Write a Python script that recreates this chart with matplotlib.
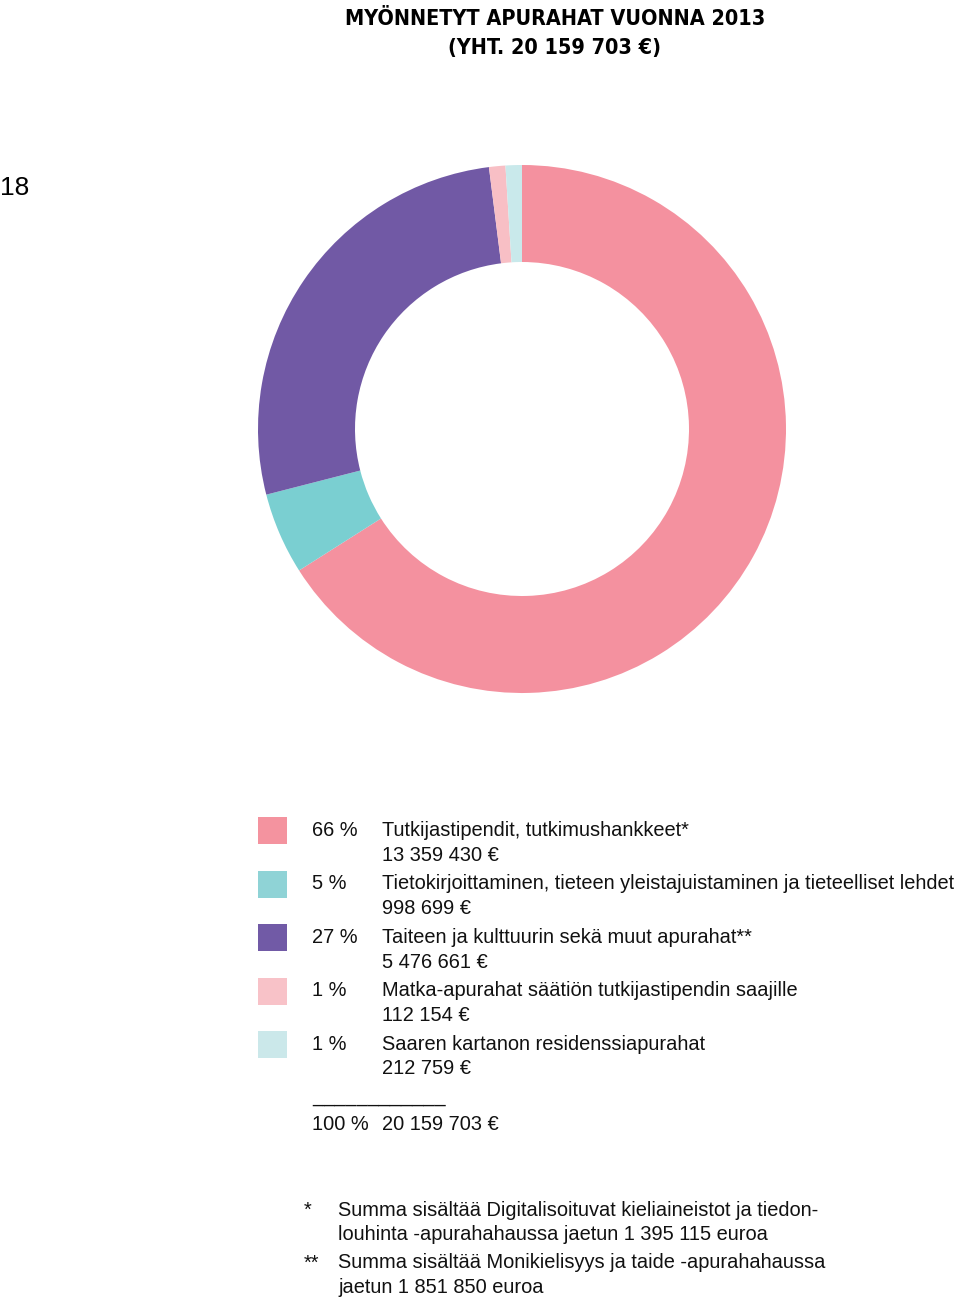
import matplotlib
matplotlib.use('Agg')
import matplotlib.pyplot as plt

# 2013 apurahat
labels = ['Tutkijastipendit, tutkimushankkeet*',
          'Tietokirjoittaminen, tieteen yleistajuistaminen ja tieteelliset lehdet',
          'Taiteen ja kulttuurin sekä muut apurahat**',
          'Matka-apurahat säätiön tutkijastipendin saajille',
          'Saaren kartanon residenssiapurahat']
amounts = [13359430, 998699, 5476661, 112154, 212759]
# kaavio on piirretty pyöristetyillä prosenteilla
shares = [66, 5, 27, 1, 1]
percents = ['66 %', '5 %', '27 %', '1 %', '1 %']
amount_texts = ['13 359 430 €', '998 699 €', '5 476 661 €', '112 154 €', '212 759 €']
colors = ['#F4919F', '#7ACFD1', '#7159A5', '#F8BFC5', '#C9E9EB']
legend_colors = ['#F4939F', '#8FD3D6', '#715AA6', '#F8C2C8', '#CBE8EA']

total_pct = '100 %'
total_text = '20 159 703 €'
footnotes = [('*', ['Summa sisältää Digitalisoituvat kieliaineistot ja tiedon-',
                    'louhinta -apurahahaussa jaetun 1 395 115 euroa']),
             ('**', ['Summa sisältää Monikielisyys ja taide -apurahahaussa',
                     'jaetun 1 851 850 euroa'])]

W, H = 960, 1299
fig = plt.figure(figsize=(W / 100, H / 100), dpi=100)

# donitsikaavio, keskipiste (522, 429), säde 264 px
cx, cy, r = 522, 429, 264
ax = fig.add_axes([(cx - r) / W, 1 - (cy + r) / H, 2 * r / W, 2 * r / H])
ax.pie(shares, colors=colors, startangle=90, counterclock=False,
       wedgeprops=dict(width=(264 - 167) / 264, edgecolor='none'))
ax.set_xlim(-1, 1)
ax.set_ylim(-1, 1)
ax.axis('off')

# tekstit ja selitteet pikselikoordinaateissa
tx = fig.add_axes([0, 0, 1, 1])
tx.set_xlim(0, W)
tx.set_ylim(H, 0)
tx.axis('off')
tx.patch.set_alpha(0)

title_font = dict(family='DejaVu Sans', stretch='condensed', fontweight='bold', fontsize=15.5)
tx.text(555, 19, 'MYÖNNETYT APURAHAT VUONNA 2013', ha='center', va='center', **title_font)
tx.text(555, 48, '(YHT. 20 159 703 €)', ha='center', va='center', **title_font)

tx.text(0, 188, '18', ha='left', va='center', fontsize=19, family='Liberation Sans')

body = dict(family=['Liberation Sans', 'DejaVu Sans'], fontsize=14.4, color='#111111')
y0 = 830
step = 53.5
for i in range(len(labels)):
    y = y0 + i * step
    tx.bar(272, 27, width=29, bottom=y - 13, color=legend_colors[i], edgecolor='none')
    tx.text(312, y, percents[i], ha='left', va='center', **body)
    tx.text(382, y, labels[i], ha='left', va='center', **body)
    tx.text(382, y + 25, amount_texts[i], ha='left', va='center', **body)

tx.text(312, 1097, '_' * 12, ha='left', va='center', **body)
tx.text(312, 1125, total_pct, ha='left', va='center', **body)
tx.text(382, 1125, total_text, ha='left', va='center', **body)

fy = [1210, 1263]
for (mark, lines), y in zip(footnotes, fy):
    tx.text(304, y, mark, ha='left', va='center', **body)
    for j, line in enumerate(lines):
        tx.text(338, y + j * 24.5, line, ha='left', va='center', **body)

fig.savefig('out.png', dpi=100)
